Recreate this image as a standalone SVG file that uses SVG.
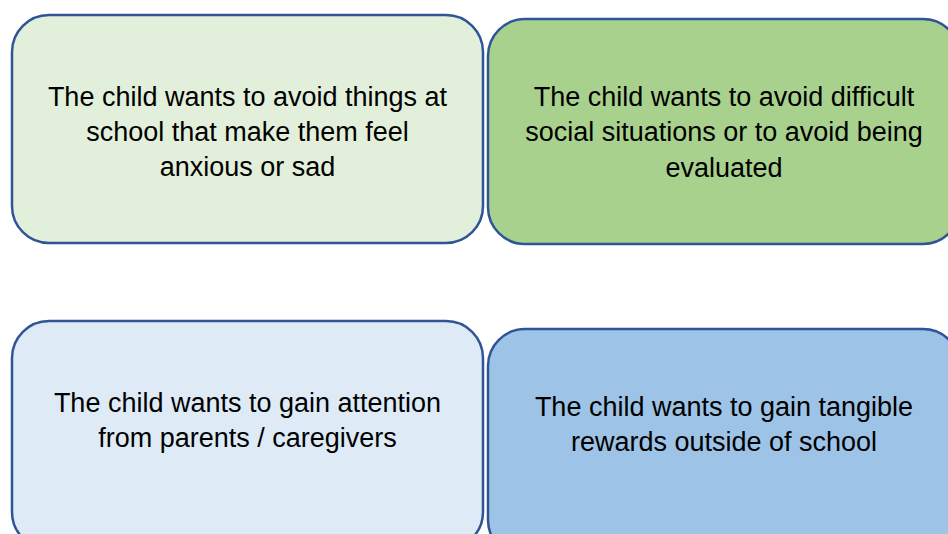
<svg xmlns="http://www.w3.org/2000/svg" width="948" height="534" viewBox="0 0 948 534">
<style>
.box{stroke:#2F5597;stroke-width:2.5}
.t{font-family:"Liberation Sans",Arial,sans-serif;font-size:27px;fill:#000;text-anchor:middle}
</style>
<rect width="948" height="534" fill="#fff"/>
<g id="node-avoid-anxiety">
<rect class="box" x="12" y="15" width="471" height="228" rx="37" fill="#E2EFDA"/>
<text class="t"><tspan x="247.5" y="105.5">The child wants to avoid things at</tspan><tspan x="247.5" y="140.5">school that make them feel</tspan><tspan x="247.5" y="175.5">anxious or sad</tspan></text>
</g>
<g id="node-avoid-social">
<rect class="box" x="488" y="19" width="472" height="225" rx="37" fill="#A9D18E"/>
<text class="t"><tspan x="724" y="105.5">The child wants to avoid difficult</tspan><tspan x="724" y="140.5">social situations or to avoid being</tspan><tspan x="724" y="176.5">evaluated</tspan></text>
</g>
<g id="node-gain-attention">
<rect class="box" x="12" y="321" width="471" height="228" rx="37" fill="#DEEBF7"/>
<text class="t"><tspan x="247.5" y="411.5">The child wants to gain attention</tspan><tspan x="247.5" y="446.5">from parents / caregivers</tspan></text>
</g>
<g id="node-gain-rewards">
<rect class="box" x="488" y="329" width="472" height="228" rx="37" fill="#9DC3E6"/>
<text class="t"><tspan x="724" y="415.5">The child wants to gain tangible</tspan><tspan x="724" y="450.5">rewards outside of school</tspan></text>
</g>
<g id="connectors"></g>
</svg>
